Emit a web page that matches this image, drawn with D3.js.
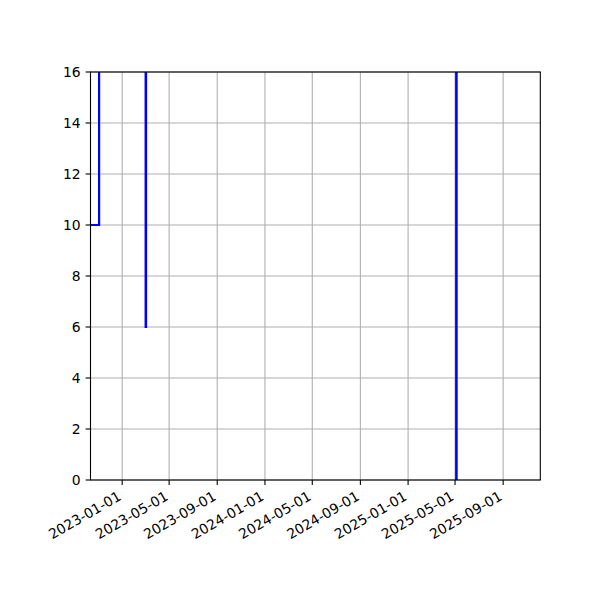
<!DOCTYPE html>
<html><head><meta charset="utf-8">
<script src="https://cdn.jsdelivr.net/npm/d3@7"></script>
<style>body{margin:0;background:#fff}</style>
</head><body>
<script>
const dates = ["2022-10-12","2022-11-03","2023-03-02","2023-03-03","2025-05-04","2025-05-05","2025-12-05"];
const values = [10, 20, 6, 20, 0, 20, 20];
const yTicks = [0,2,4,6,8,10,12,14,16];
const xTickLabels = ["2023-01-01","2023-05-01","2023-09-01","2024-01-01","2024-05-01","2024-09-01","2025-01-01","2025-05-01","2025-09-01"];
const xDomain = ["2022-10-12","2025-12-05"];

const W=600,H=600, L=90.5, R=540.3, T=72, B=480;
const parse = d3.utcParse("%Y-%m-%d");
const svg = d3.select("body").append("svg").attr("width",W).attr("height",H);
const x = d3.scaleUtc().domain(xDomain.map(parse)).range([L,R]);
const y = d3.scaleLinear().domain([0,16]).range([B,T]);
const font = "DejaVu Sans";
const fs = 13.9;

// grid
const g = svg.append("g");
xTickLabels.forEach(t=>{
  const xp = x(parse(t));
  g.append("line").attr("x1",xp).attr("x2",xp).attr("y1",T).attr("y2",B).attr("stroke","#b0b0b0").attr("stroke-width",1.1);
});
yTicks.forEach(t=>{
  const yp = y(t);
  g.append("line").attr("x1",L).attr("x2",R).attr("y1",yp).attr("y2",yp).attr("stroke","#b0b0b0").attr("stroke-width",1.1);
});

// line
svg.append("clipPath").attr("id","clip").append("rect").attr("x",L).attr("y",T).attr("width",R-L).attr("height",B-T);
const pts = dates.map((d,i)=>({d:parse(d),v:values[i]}));
svg.append("path").datum(pts).attr("clip-path","url(#clip)")
  .attr("fill","none").attr("stroke","#0000ff").attr("stroke-width",2.2)
  .attr("d", d3.line().x(p=>x(p.d)).y(p=>y(p.v)).curve(d3.curveStepAfter));

// spines
svg.append("rect").attr("x",L).attr("y",T).attr("width",R-L).attr("height",B-T).attr("fill","none").attr("stroke","#000").attr("stroke-width",1.1);

// y ticks
yTicks.forEach(t=>{
  const yp=y(t);
  svg.append("line").attr("x1",L-4.9).attr("x2",L).attr("y1",yp).attr("y2",yp).attr("stroke","#000").attr("stroke-width",1.1);
  svg.append("text").attr("x",L-4.9-4.9).attr("y",yp).attr("dy","0.35em").attr("text-anchor","end")
    .attr("font-family",font).attr("font-size",fs).attr("fill","#000").text(t);
});
// x ticks
xTickLabels.forEach(t=>{
  const xp=x(parse(t));
  svg.append("line").attr("x1",xp).attr("x2",xp).attr("y1",B).attr("y2",B+4.9).attr("stroke","#000").attr("stroke-width",1.1);
  svg.append("text").attr("transform",`translate(${xp-5.5},${B+9.8}) rotate(-30)`)
    .attr("dy","0.78em").attr("text-anchor","end")
    .attr("font-family",font).attr("font-size",fs).attr("fill","#000").text(t);
});
</script>
</body></html>
